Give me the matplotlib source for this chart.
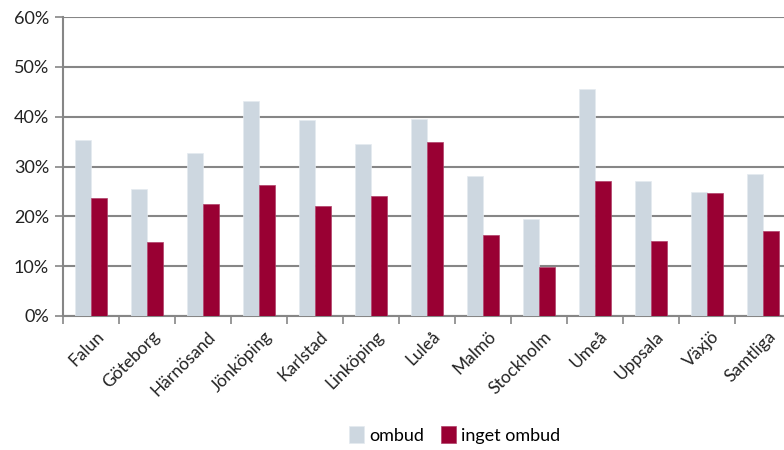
import numpy as np
import matplotlib.pyplot as plt
from matplotlib.ticker import FuncFormatter, FixedLocator

cities = ["Falun", "Göteborg", "Härnösand", "Jönköping", "Karlstad", "Linköping",
          "Luleå", "Malmö", "Stockholm", "Umeå", "Uppsala", "Växjö", "Samtliga"]
ombud = [35.4, 25.5, 32.7, 43.2, 39.3, 34.6, 39.5, 28.1, 19.4, 45.6, 27.1, 24.8, 28.4]
inget_ombud = [23.6, 14.8, 22.4, 26.2, 22.0, 24.1, 35.0, 16.3, 9.8, 27.1, 15.1, 24.6, 17.0]

plt.rcParams['font.family'] = ['Lato', 'DejaVu Sans']

GRID = "#868686"
LIGHT = "#CDD7E0"
RED = "#990033"

fig = plt.figure(figsize=(7.84, 4.5), dpi=100)
ax = fig.add_axes([63 / 784, 134 / 450, 728 / 784, 299 / 450])

x = np.arange(len(cities))
w = 0.286
ax.bar(x - w / 2, ombud, w, color=LIGHT, edgecolor="#E4EAF0", linewidth=0.5,
       label="ombud", zorder=3)
ax.bar(x + w / 2, inget_ombud, w, color=RED, edgecolor="#B0406A", linewidth=0.5,
       label="inget ombud", zorder=3)

ax.set_ylim(0, 60)
ax.set_xlim(-0.5, len(cities) - 0.5)
ax.set_yticks(range(0, 61, 10))
ax.yaxis.set_major_formatter(FuncFormatter(lambda v, p: f"{v:.0f}%"))
ax.yaxis.grid(True, color=GRID, linewidth=1.5, zorder=0)
ax.set_axisbelow(True)

ax.set_xticks(x + 0.08)
ax.set_xticklabels(cities, rotation=45, ha="right", rotation_mode="anchor",
                   fontsize=12.5, color="#222222")
ax.tick_params(axis="x", which="major", length=0, pad=9)
ax.xaxis.set_minor_locator(FixedLocator(np.arange(-0.5, len(cities), 1)))
ax.tick_params(axis="x", which="minor", length=6, width=1.2, color=GRID,
               direction="out")
ax.tick_params(axis="y", length=6, width=1.2, color=GRID, labelsize=13,
               labelcolor="#222222", pad=4)

for s in ["top", "right"]:
    ax.spines[s].set_visible(False)
for s in ["left", "bottom"]:
    ax.spines[s].set_color(GRID)
    ax.spines[s].set_linewidth(1.5)

fig.legend(loc="lower center", bbox_to_anchor=(0.58, -0.022), ncol=2, frameon=False,
           fontsize=13, handlelength=0.85, handleheight=1.0, handletextpad=0.3,
           columnspacing=0.9)

fig.savefig("out.png", dpi=100)
